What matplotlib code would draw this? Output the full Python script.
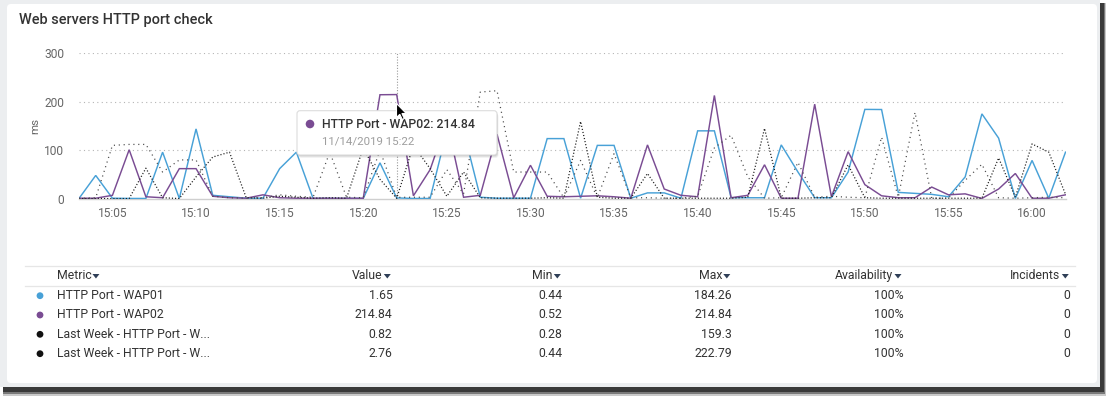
import numpy as np
import matplotlib
matplotlib.use("Agg")
import matplotlib.pyplot as plt
from matplotlib.patches import Rectangle, FancyBboxPatch, Polygon, Circle

# ---------------- data ----------------
start_minute = 3          # first sample 15:03, one sample per minute
tick_minutes = [5, 10, 15, 20, 25, 30, 35, 40, 45, 50, 55, 60]
tick_labels = ["15:05", "15:10", "15:15", "15:20", "15:25", "15:30",
               "15:35", "15:40", "15:45", "15:50", "15:55", "16:00"]
y_ticks = [0, 100, 200, 300]

wap01 = [0.5, 48, 1, 0.5, 0.5, 96, 0.5, 144, 7, 4,
         1, 1, 62, 96, 0.5, 0.5, 0.5, 0.5, 74, 1.65,
         0.5, 0.5, 140, 140, 3, 1, 1, 1, 124, 124,
         1, 110, 110, 1, 12, 12, 1, 140, 140, 2,
         2, 2, 111, 55, 2, 2, 55, 184.26, 184, 13,
         11, 9, 4, 45, 175, 125, 0.44, 79, 1, 96]

wap02 = [1, 1, 7, 101, 4, 2, 62, 62, 5, 2,
         1, 8, 2, 1, 1, 1, 1, 1, 214.5, 214.84,
         6, 60, 160, 3, 7, 133, 2, 69, 5, 4,
         5, 6, 4, 1, 111, 20, 7, 4, 213, 2,
         7, 70, 1, 1, 195, 4, 97, 29, 6, 2,
         2, 24, 8, 10, 0.52, 20, 52, 1, 1, 8]

lw_wap01 = [0.3, 0.3, 0.3, 0.3, 63, 2, 0.3, 45, 86, 96,
            2, 1, 5, 3, 1, 2, 1, 105, 40, 0.82,
            110, 62, 5, 55, 2, 1, 1, 1, 2, 1,
            159.3, 3, 1, 1, 52, 1, 1, 1, 1, 1,
            3, 145, 1, 1, 2, 2, 70, 2, 1, 1,
            1, 1, 1, 1, 1, 84, 3, 113, 96, 9]

lw_wap02 = [0.5, 2, 110, 112, 112, 55, 80, 80, 5, 2,
            1, 2, 8, 5, 3, 96, 3, 2, 100, 2.76,
            3, 3, 60, 10, 220, 222.79, 55, 55, 55, 2,
            79, 2, 93, 2, 2, 1, 1, 5, 105, 131,
            45, 1, 2, 75, 3, 5, 3, 2, 127, 3,
            178, 1, 1, 38, 71, 2, 1, 2, 3, 2]

hover_index = 19
metrics = ["HTTP Port - WAP01", "HTTP Port - WAP02",
           "Last Week - HTTP Port - W...", "Last Week - HTTP Port - W..."]
val_col = ["1.65", "214.84", "0.82", "2.76"]
min_col = ["0.44", "0.52", "0.28", "0.44"]
max_col = ["184.26", "214.84", "159.3", "222.79"]
avail_col = ["100%", "100%", "100%", "100%"]
incid_col = ["0", "0", "0", "0"]
headers = ["Metric", "Value", "Min", "Max", "Availability", "Incidents"]

# ---------------- style ----------------
BLUE = "#48a1d7"
PURPLE = "#7a4c93"
DARK = "#1e1e1e"
GRAY_DOT = "#4a4a4a"
FONT = ["Roboto", "DejaVu Sans"]
plt.rcParams["font.family"] = FONT

W, H = 1109, 397
DPI = 100
def px(v):
    return v * 72.0 / DPI

fig = plt.figure(figsize=(W / DPI, H / DPI), dpi=DPI, facecolor="white")

# background (pixel coordinates)
bg = fig.add_axes([0, 0, 1, 1], zorder=-2)
bg.set_xlim(0, W); bg.set_ylim(H, 0); bg.axis("off")
bg.add_patch(Rectangle((3, 3), 1106 - 3, 396 - 3, color="#c9c9c9", lw=0))
bg.add_patch(Rectangle((3, 3), 1105 - 3, 394 - 3, color="#7a7a7a", lw=0))
bg.add_patch(Rectangle((3, 3), 1103.5 - 3, 392 - 3, color="#3a3a3a", lw=0))
bg.add_patch(Rectangle((0, 0), 1100, 387, color="#eceef0", lw=0))
bg.add_patch(FancyBboxPatch((7, 4), 1097 - 7, 383 - 4,
                            boxstyle="round,pad=0,rounding_size=4",
                            fc="white", ec="none"))

bg.text(19, 20, "Web servers HTTP port check", fontsize=px(14.5),
        fontweight="medium", color="#333333", va="center", ha="left")

# ---------------- chart ----------------
x0, x1 = 79, 1065.5
ytop, ybot = 53.3, 198.7
ax = fig.add_axes([x0 / W, 1 - ybot / H, (x1 - x0) / W, (ybot - ytop) / H], zorder=1)
ax.patch.set_alpha(0)
x = np.arange(len(wap01)) + start_minute
ax.set_xlim(x[0], x[-1])
ax.set_ylim(0, 300)

ax.plot(x, wap01, color=BLUE, lw=1.05, zorder=3, solid_joinstyle="miter")
ax.plot(x, wap02, color=PURPLE, lw=1.05, zorder=3, solid_joinstyle="miter")
ax.plot(x, lw_wap01, color=DARK, lw=0.9, zorder=4, linestyle=(0, (0.9, 1.6)))
ax.plot(x, lw_wap02, color=GRAY_DOT, lw=0.9, zorder=4, linestyle=(0, (0.9, 3.0)))

for s in ["top", "right", "left"]:
    ax.spines[s].set_visible(False)
ax.spines["bottom"].set_color("#cfcfcf")
ax.spines["bottom"].set_linewidth(1.0)
ax.set_yticks(y_ticks)
ax.set_xticks(tick_minutes)
ax.set_xticklabels(tick_labels)
ax.tick_params(axis="both", length=0, labelsize=px(12), labelcolor="#666666")
ax.tick_params(axis="y", pad=px(15))
ax.tick_params(axis="x", pad=px(8))
for yv in y_ticks[1:]:
    ax.axhline(yv, color="#b5b5b5", lw=0.8, linestyle=(0, (1, 3)), zorder=1)
ax.axvline(x[hover_index], color="#9a9a9a", lw=0.8, linestyle=(0, (1, 1.5)), zorder=2)
ax.set_ylabel("ms", fontsize=px(11.5), color="#666666", labelpad=px(4))

# ---------------- overlay: tooltip, cursor, table ----------------
fg = fig.add_axes([0, 0, 1, 1], zorder=5)
fg.set_xlim(0, W); fg.set_ylim(H, 0); fg.axis("off"); fg.patch.set_alpha(0)

# tooltip
for off, a in [(3, 0.05), (2, 0.07), (1, 0.09)]:
    fg.add_patch(FancyBboxPatch((297 + off * 0.5, 110.7 + off), 200, 44.3,
                                boxstyle="round,pad=0,rounding_size=3",
                                fc="black", ec="none", alpha=a))
fg.add_patch(FancyBboxPatch((297, 110.7), 200, 44.3,
                            boxstyle="round,pad=0,rounding_size=3",
                            fc="white", ec="#dcdcdc", lw=0.8))
fg.add_patch(Circle((310, 124), 4.3, color=PURPLE, lw=0))
fg.text(322, 124, "HTTP Port - WAP02: %s" % val_col[1], fontsize=px(12.3),
        fontweight="medium", color="#333333", va="center", ha="left")
fg.text(322, 141.7, "11/14/2019 15:22", fontsize=px(11.5),
        color="#9e9e9e", va="center", ha="left")

# mouse pointer
cur = np.array([(0, 0), (0, 14), (3.3, 10.8), (5.8, 16), (7.8, 15), (5.4, 10), (9.8, 10)])
cur = cur + np.array([396.5, 103.5])
fg.add_patch(Polygon(cur, closed=True, fc="black", ec="white", lw=0.8, zorder=6))

# table
fg.plot([25, 1075], [265.7, 265.7], color="#e6e6e6", lw=0.9)
fg.plot([25, 1075], [285.7, 285.7], color="#e6e6e6", lw=0.9)
ARROW = "#2f3f57"
col_right = [None, 391, 561, 730.5, 901.7, 1069]
hy = 275.7
fs = px(12.3)
ARW = 8.5  # arrow glyph width in px

def arrow(xl, yy):
    fg.add_patch(Polygon([(xl, yy - 2.2), (xl + 7, yy - 2.2), (xl + 3.5, yy + 2.3)],
                         closed=True, fc=ARROW, ec="none"))

t = fg.text(56.7, hy, headers[0], fontsize=fs, color="#333333", va="center", ha="left")
fig.canvas.draw()
r = fig.canvas.get_renderer()
bb = t.get_window_extent(r)
arrow(56.7 + bb.width + 1.0, hy + 0.5)
for h, xr in zip(headers[1:], col_right[1:]):
    fg.text(xr - ARW, hy, h, fontsize=fs, color="#333333", va="center", ha="right")
    arrow(xr - 7.2, hy + 0.5)

row_y = [295.7, 315, 334.3, 353.7]
dot_colors = [BLUE, PURPLE, "#111111", "#111111"]
cols = [val_col, min_col, max_col, avail_col, incid_col]
for i, yy in enumerate(row_y):
    fg.add_patch(Circle((40, yy), 3.4, color=dot_colors[i], lw=0))
    fg.text(56.7, yy, metrics[i], fontsize=fs, color="#333333", va="center", ha="left")
    for c, xr in zip(cols, col_right[1:]):
        fg.text(xr + 1.5, yy, c[i], fontsize=fs, color="#333333", va="center", ha="right")

fig.savefig("out.png", dpi=DPI, facecolor="white")
